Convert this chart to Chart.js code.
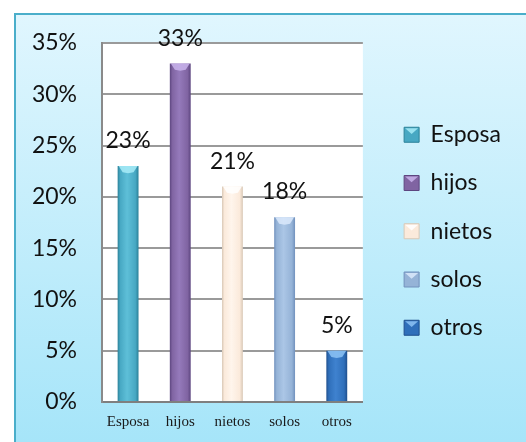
<!DOCTYPE html>
<html>
<head>
<meta charset="utf-8">
<script src="https://cdn.jsdelivr.net/npm/chart.js@4.4.1/dist/chart.umd.min.js"></script>
<style>
  html, body { margin: 0; padding: 0; background: #ffffff; width: 526px; height: 442px; overflow: hidden; }
  #panel {
    position: absolute; left: 14px; top: 13px; width: 510px; height: 427px;
    border-left: 2px solid #4aaeca; border-top: 2px solid #4aaeca;
    background: linear-gradient(#e0f6fe, #a6e5f9);
  }
  canvas { display: block; }
</style>
</head>
<body>
<div id="panel"><canvas id="chart" width="510" height="427"></canvas></div>
<script>
// Who the respondents live with (share of answers, %)
const categories = ['Esposa', 'hijos', 'nietos', 'solos', 'otros'];
const shares = [23, 33, 21, 18, 5];

// Axis range and step for the percentage scale
const yMin = 0;
const yMax = 35;
const yStep = 5;

// Bar colours: base, dark edge, light centre, bevel highlight
const barBase  = ['#47a8c3', '#8064a2', '#fbeadb', '#95b3d7', '#2f6fba'];
const barEdge  = ['#2b8199', '#5d4680', '#d9c8b6', '#7191bd', '#1f4f8d'];
const barLight = ['#5ebfd8', '#957abb', '#fff5ec', '#abc6e6', '#3f82cf'];
const barCap   = ['#a8ecf8', '#c9b4ec', '#ffffff', '#dbe9fb', '#8dc3f5'];

const sansFont = 'Lato, "Open Sans", sans-serif';
const serifFont = '"Liberation Serif", "DejaVu Serif", serif';
const bigText = 23;

function barGradient(ctx) {
  const chart = ctx.chart;
  const i = ctx.dataIndex;
  if (!chart.chartArea || !chart.scales.x) return barBase[i];
  const xs = chart.scales.x;
  const cx = xs.getPixelForValue(i);
  const w = (xs.width / categories.length) * 0.4;
  const g = chart.ctx.createLinearGradient(cx - w / 2, 0, cx + w / 2, 0);
  g.addColorStop(0, barEdge[i]);
  g.addColorStop(0.12, barBase[i]);
  g.addColorStop(0.45, barLight[i]);
  g.addColorStop(0.85, barBase[i]);
  g.addColorStop(1, barEdge[i]);
  return g;
}

// White plot area behind the grid
const plotBackground = {
  id: 'plotBackground',
  beforeDraw(chart) {
    const { ctx, chartArea: a } = chart;
    ctx.save();
    ctx.fillStyle = '#ffffff';
    ctx.fillRect(a.left, a.top, a.right - a.left, a.bottom - a.top);
    ctx.restore();
  }
};

// Bevelled caps on the bars and value labels above them
const barDecor = {
  id: 'barDecor',
  afterDatasetsDraw(chart) {
    const { ctx } = chart;
    const meta = chart.getDatasetMeta(0);
    ctx.save();
    meta.data.forEach((el, i) => {
      const { x, y, width } = el.getProps(['x', 'y', 'width'], true);
      const h = Math.min(7, width * 0.3);
      ctx.beginPath();
      ctx.moveTo(x - width / 2 + 1, y);
      ctx.lineTo(x + width / 2 - 1, y);
      ctx.lineTo(x + width / 2 - 5, y + h);
      ctx.lineTo(x, y + h + 1);
      ctx.lineTo(x - width / 2 + 5, y + h);
      ctx.closePath();
      ctx.fillStyle = barCap[i];
      ctx.globalAlpha = 0.85;
      ctx.fill();
      ctx.globalAlpha = 1;

      ctx.fillStyle = '#111111';
      ctx.font = bigText + 'px ' + sansFont;
      ctx.textAlign = 'center';
      ctx.textBaseline = 'alphabetic';
      ctx.fillText(shares[i] + '%', x, y - 18);
    });
    ctx.restore();
  },
  afterDraw(chart) {
    // small highlight on each legend swatch
    const lg = chart.legend;
    if (!lg || !lg.legendHitBoxes) return;
    const { ctx } = chart;
    const bw = lg.options.labels.boxWidth;
    const bh = lg.options.labels.boxHeight;
    const fs = lg.options.labels.font.size;
    ctx.save();
    lg.legendHitBoxes.forEach((hb, i) => {
      const x = hb.left;
      const y = hb.top + Math.max((fs - bh) / 2, 0);
      ctx.beginPath();
      ctx.moveTo(x + 1, y + 1);
      ctx.lineTo(x + bw - 1, y + 1);
      ctx.lineTo(x + bw / 2, y + bh * 0.45);
      ctx.closePath();
      ctx.fillStyle = barCap[i];
      ctx.globalAlpha = 0.85;
      ctx.fill();
    });
    ctx.restore();
  }
};

new Chart(document.getElementById('chart'), {
  type: 'bar',
  data: {
    labels: categories,
    datasets: [{
      data: shares,
      backgroundColor: barGradient,
      borderColor: barEdge,
      borderWidth: 0,
      barPercentage: 0.4,
      categoryPercentage: 1.0
    }]
  },
  plugins: [plotBackground, barDecor],
  options: {
    responsive: false,
    animation: false,
    layout: { padding: { left: 0, right: 15, top: 28, bottom: 11 } },
    plugins: {
      tooltip: { enabled: false },
      legend: {
        position: 'right',
        align: 'start',
        maxWidth: 220,
        title: { display: true, text: ' ', font: { size: 10 }, padding: { top: 0, bottom: 43 } },
        labels: {
          font: { family: sansFont, size: bigText },
          color: '#111111',
          boxWidth: 15,
          boxHeight: 15,
          padding: 25.25,
          generateLabels: () => categories.map((c, i) => ({
            text: c,
            fillStyle: barBase[i],
            strokeStyle: barEdge[i],
            fontColor: '#111111',
            lineWidth: 1,
            hidden: false,
            index: i
          }))
        }
      }
    },
    scales: {
      x: {
        grid: { display: false, drawTicks: false },
        border: { display: true, color: '#7f7f7f', width: 2 },
        ticks: { font: { family: serifFont, size: 15 }, color: '#1a1a1a', padding: 11 },
        afterFit(scale) { scale.height = 29; }
      },
      y: {
        min: yMin,
        max: yMax,
        ticks: {
          stepSize: yStep,
          font: { family: sansFont, size: bigText },
          color: '#111111',
          padding: 0,
          callback: v => v + '%'
        },
        grid: { color: '#9a9a9a', lineWidth: 2, drawTicks: true, tickLength: 25, tickColor: 'rgba(0,0,0,0)' },
        border: { display: true, color: '#8a8a8a', width: 2 },
        afterFit(scale) { scale.width = 86; }
      },
      gap: {
        position: 'right',
        display: true,
        grid: { display: false, drawTicks: false },
        border: { display: false },
        ticks: { display: false },
        afterFit(scale) { scale.width = 16; }
      }
    }
  }
});
</script>
</body>
</html>
